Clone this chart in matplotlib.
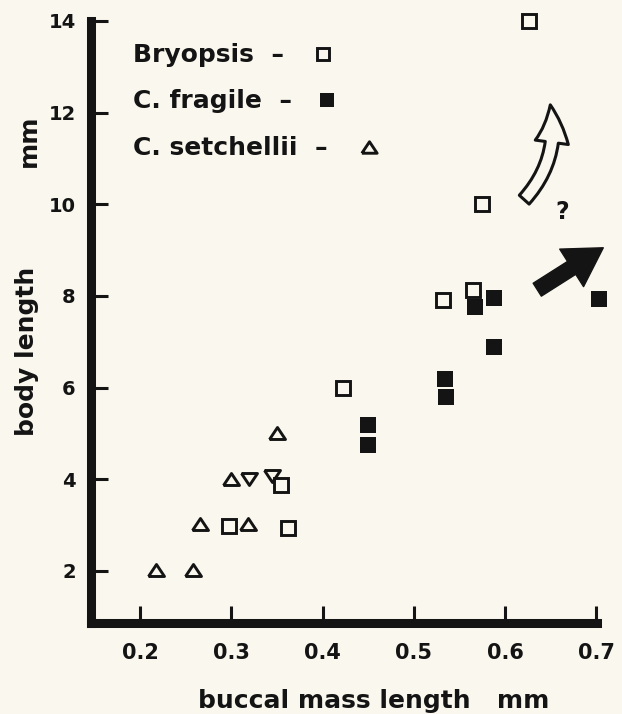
import matplotlib
matplotlib.use("Agg")
import matplotlib.pyplot as plt
from matplotlib.markers import MarkerStyle
from matplotlib.patches import FancyArrowPatch, ArrowStyle

# ---------------- data ----------------
bryopsis_x = [0.626, 0.575, 0.532, 0.565, 0.422, 0.354, 0.297, 0.362]
bryopsis_y = [14.0, 10.0, 7.9, 8.12, 6.0, 3.88, 2.98, 2.94]

fragile_x = [0.450, 0.450, 0.534, 0.535, 0.567, 0.588, 0.588, 0.703]
fragile_y = [5.18, 4.75, 6.19, 5.80, 7.76, 7.96, 6.89, 7.94]

setchellii_x = [0.217, 0.258, 0.265, 0.318, 0.300, 0.350]
setchellii_y = [2.02, 2.02, 3.03, 3.03, 4.0, 5.0]
# two triangles printed upside-down in the original
setchellii_inv_x = [0.319, 0.345]
setchellii_inv_y = [4.0, 4.07]

x_ticks = [0.2, 0.3, 0.4, 0.5, 0.6, 0.7]
x_tick_labels = ["0.2", "0.3", "0.4", "0.5", "0.6", "0.7"]
y_ticks = [2, 4, 6, 8, 10, 12, 14]
y_tick_labels = ["2", "4", "6", "8", "10", "12", "14"]

legend_labels = ["Bryopsis  \u2013", "C. fragile  \u2013", "C. setchellii  \u2013"]

# ---------------- style ----------------
BG = "#faf7ee"
INK = "#141414"
FONT = "DejaVu Sans"

fig = plt.figure(figsize=(6.22, 7.14), dpi=100, facecolor=BG)
ax = fig.add_axes([0.1463, 0.1268, 0.8138, 0.8438], facecolor=BG)
ax.set_xlim(0.146, 0.701)
ax.set_ylim(0.85, 14.0)

for s in ("top", "right"):
    ax.spines[s].set_visible(False)
for s in ("left", "bottom"):
    ax.spines[s].set_linewidth(6.5)
    ax.spines[s].set_color(INK)
    ax.spines[s].set_capstyle("projecting")

ax.set_xticks(x_ticks)
ax.set_xticklabels(x_tick_labels)
ax.set_yticks(y_ticks)
ax.set_yticklabels(y_tick_labels)
ax.tick_params(axis="both", direction="in", length=12, width=2.2, color=INK)
ax.tick_params(axis="x", pad=14, labelsize=15)
ax.tick_params(axis="y", pad=11, labelsize=14)
for lab in ax.get_xticklabels() + ax.get_yticklabels():
    lab.set_fontfamily(FONT)
    lab.set_fontweight("bold")
    lab.set_color(INK)

# markers
tri_up = MarkerStyle([(-1, -0.75), (1, -0.75), (0, 0.75), (-1, -0.75)], joinstyle="miter")
tri_dn = MarkerStyle([(-1, 0.75), (1, 0.75), (0, -0.75), (-1, 0.75)], joinstyle="miter")

ax.plot(bryopsis_x, bryopsis_y, ls="none", marker="s", ms=9.5, mew=2.1,
        mfc="none", mec=INK, clip_on=False, zorder=3)
ax.plot(fragile_x, fragile_y, ls="none", marker="s", ms=11.3, mew=0,
        mfc=INK, clip_on=False, zorder=4)
ax.plot(setchellii_x, setchellii_y, ls="none", marker=tri_up, ms=11.5, mew=2.1,
        mfc="none", mec=INK, clip_on=False, zorder=3)
ax.plot(setchellii_inv_x, setchellii_inv_y, ls="none", marker=tri_dn, ms=11.5, mew=2.1,
        mfc="none", mec=INK, clip_on=False, zorder=3)

# legend (text + symbol)
leg_text_x = 0.1923
leg_base_y = [13.11, 12.11, 11.08]
leg_sym_x = [0.400, 0.405, 0.451]
leg_sym_y = [13.27, 12.28, 11.26]
for lab, yb in zip(legend_labels, leg_base_y):
    ax.text(leg_text_x, yb, lab, fontsize=18, fontweight="bold", family=FONT,
            color=INK, ha="left", va="baseline")
ax.plot(leg_sym_x[0], leg_sym_y[0], marker="s", ms=8, mew=2.1, mfc="none", mec=INK)
ax.plot(leg_sym_x[1], leg_sym_y[1], marker="s", ms=10, mew=0, mfc=INK)
ax.plot(leg_sym_x[2], leg_sym_y[2], marker=tri_up, ms=11, mew=2.1, mfc="none", mec=INK)

# hollow curved arrow with question mark
hollow = FancyArrowPatch((0.621, 10.10), (0.6496, 12.17),
                         arrowstyle=ArrowStyle.Simple(head_length=27, head_width=24, tail_width=9.5),
                         connectionstyle="arc3,rad=0.25", mutation_scale=1,
                         shrinkA=0, shrinkB=0, fc=BG, ec=INK, lw=2.2,
                         clip_on=False, zorder=5)
ax.add_patch(hollow)
ax.text(0.663, 9.84, "?", fontsize=17, fontweight="bold", family=FONT,
        color=INK, ha="center", va="center")

# solid arrow
solid = FancyArrowPatch((0.6353, 8.135), (0.7077, 9.05),
                        arrowstyle=ArrowStyle.Simple(head_length=27, head_width=32, tail_width=11),
                        mutation_scale=1, shrinkA=0, shrinkB=0,
                        fc=INK, ec=INK, lw=1, clip_on=False, zorder=5)
ax.add_patch(solid)

# axis labels
fig.text(374 / 622, 6 / 714, "buccal mass length   mm", fontsize=18, fontweight="bold",
         family=FONT, color=INK, ha="center", va="baseline")
fig.text(34 / 622, 1 - 351 / 714, "body length", fontsize=18, fontweight="bold",
         family=FONT, color=INK, ha="center", va="baseline", rotation=90,
         rotation_mode="anchor")
fig.text(36 / 622, 1 - 141 / 714, "mm", fontsize=18, fontweight="bold",
         family=FONT, color=INK, ha="center", va="baseline", rotation=90,
         rotation_mode="anchor")

fig.savefig("out.png", dpi=100, facecolor=BG)
